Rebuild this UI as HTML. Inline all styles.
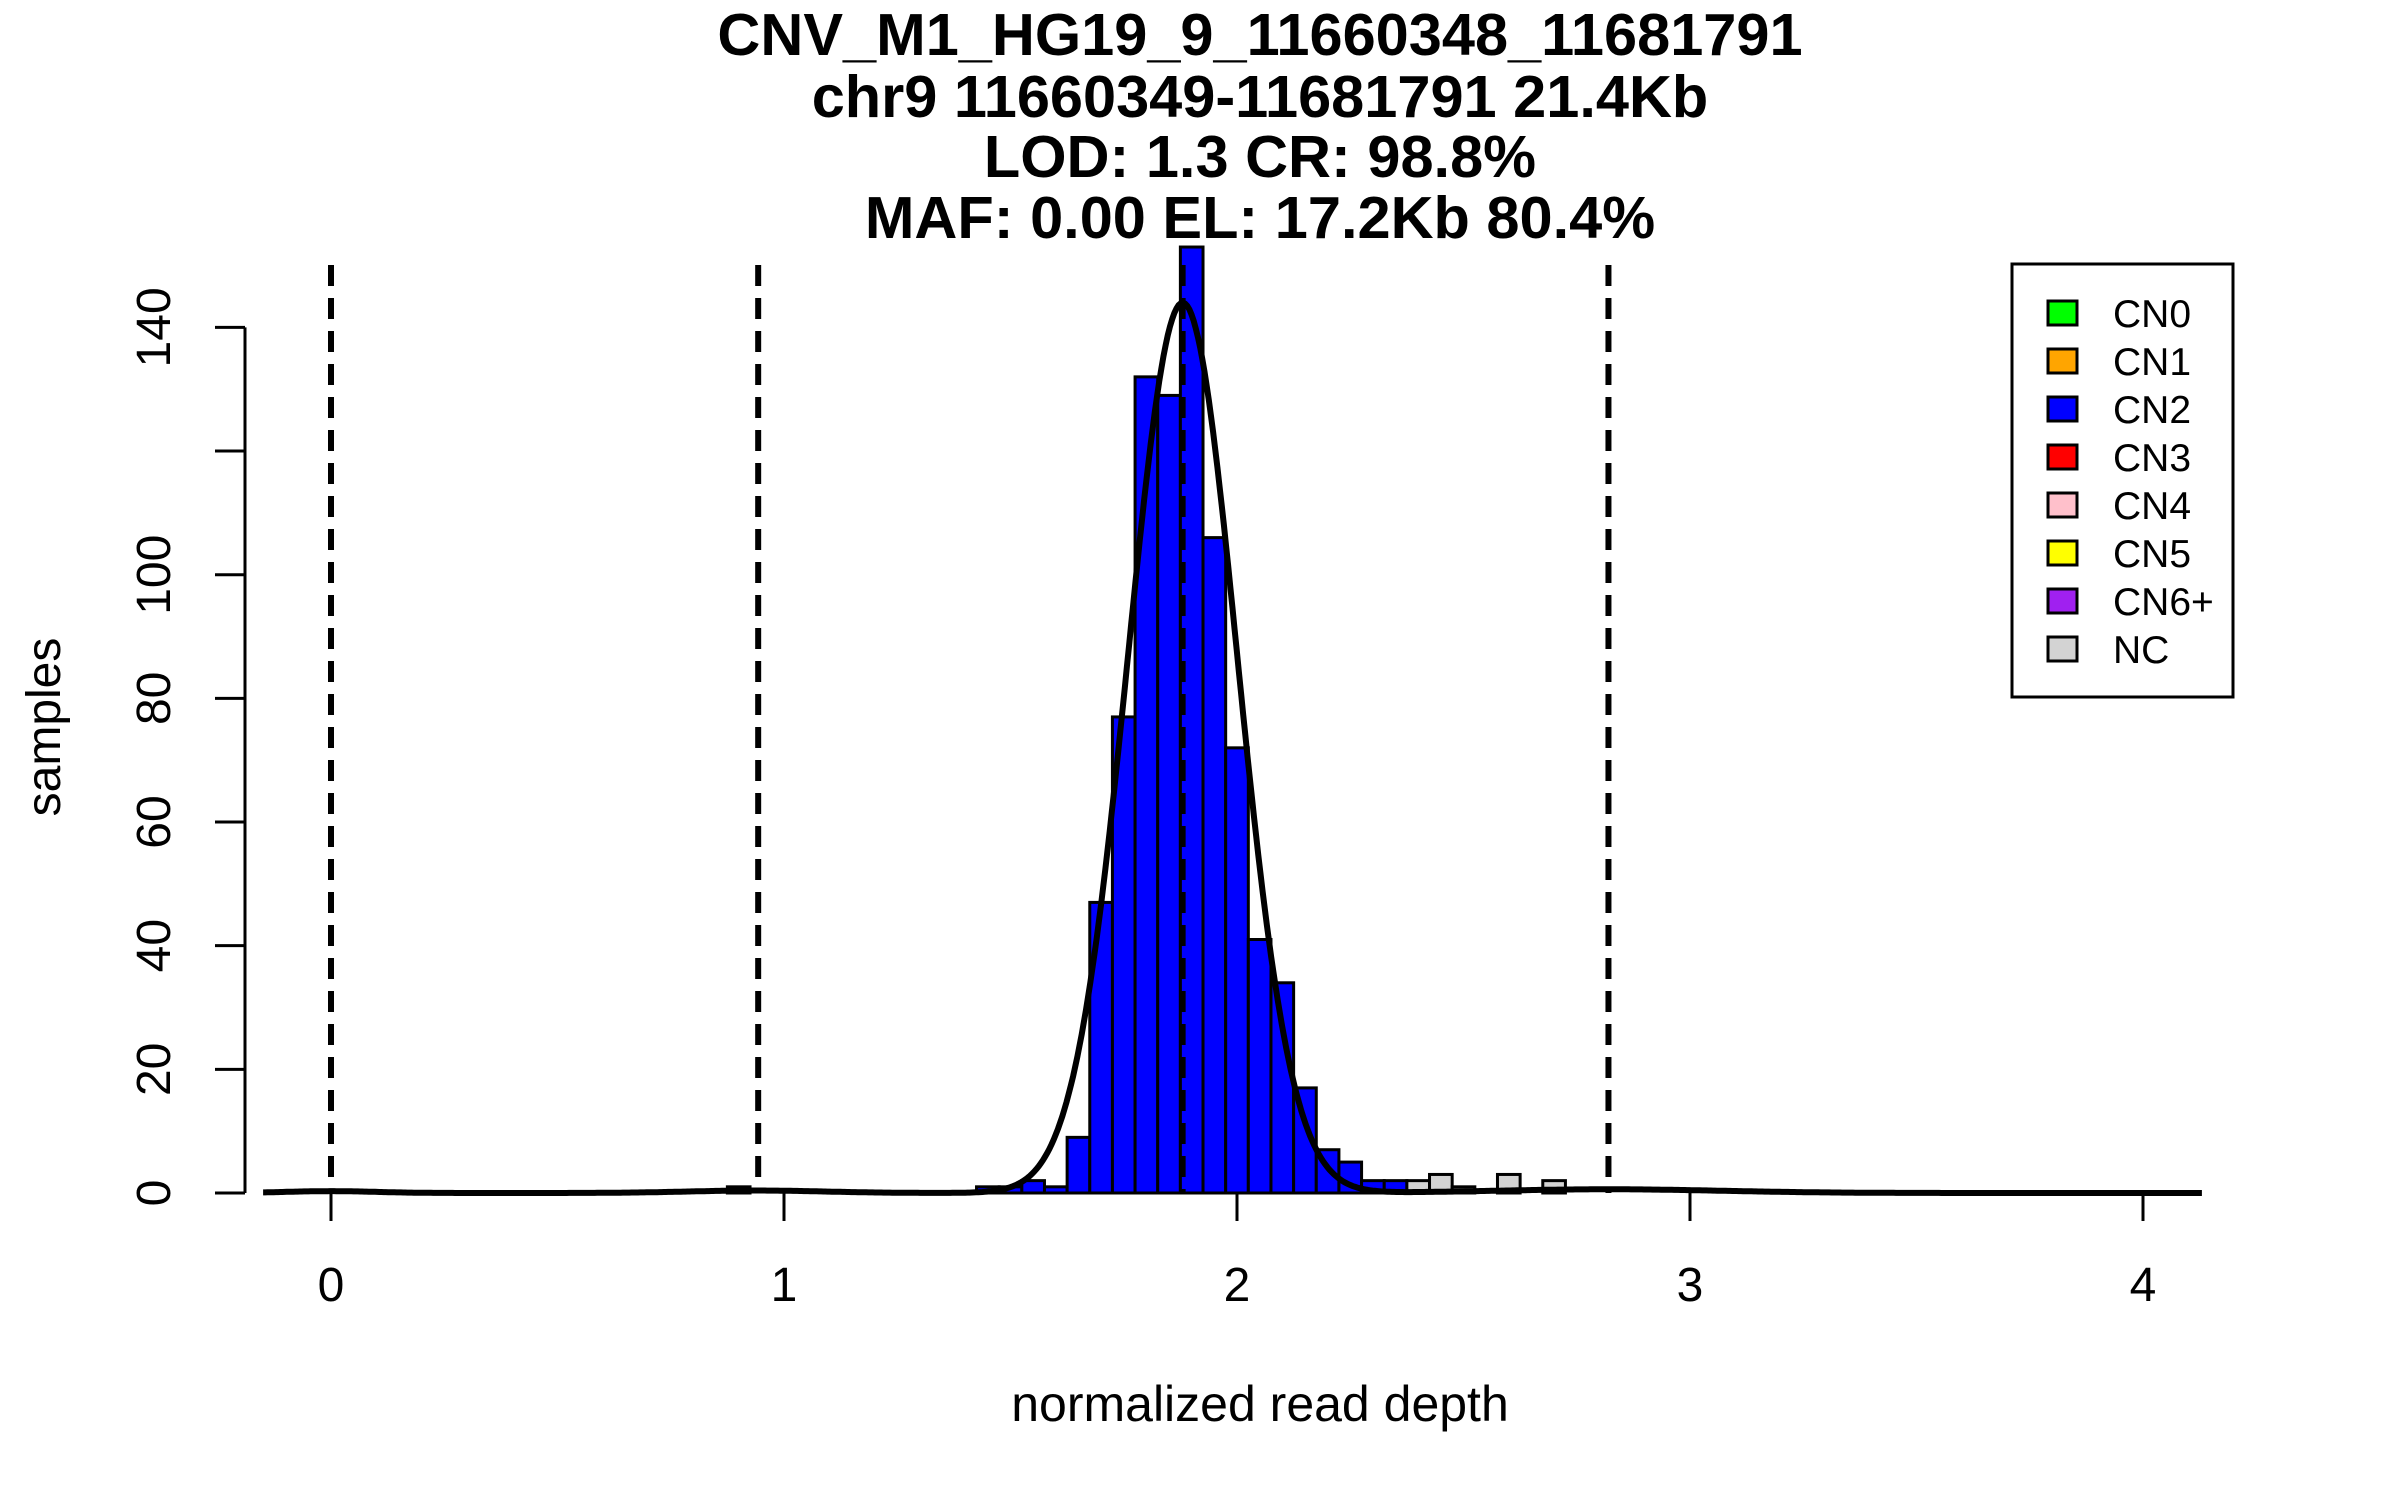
<!DOCTYPE html>
<html><head><meta charset="utf-8"><style>
html,body{margin:0;padding:0;background:#fff;}
svg{display:block;font-family:"Liberation Sans",Arial,sans-serif;}
</style></head><body>
<svg id="chart" width="2400" height="1500" viewBox="0 0 2400 1500" xmlns="http://www.w3.org/2000/svg">
<rect width="2400" height="1500" fill="#fff"/>
<g font-weight="bold" font-size="59.5" text-anchor="middle" fill="#000">
<text x="1260" y="55">CNV_M1_HG19_9_11660348_11681791</text>
<text x="1260" y="117">chr9 11660349-11681791 21.4Kb</text>
<text x="1260" y="177">LOD: 1.3 CR: 98.8%</text>
<text x="1260" y="238">MAF: 0.00 EL: 17.2Kb 80.4%</text>
</g>
<g id="bars"></g>
<g id="vlines"></g>
<path id="curve" fill="none" stroke="#000" stroke-width="6"/>
<g id="axes"></g>
<text x="1260" y="1421" font-size="50" text-anchor="middle">normalized read depth</text>
<text transform="translate(60,727) rotate(-90)" font-size="48" text-anchor="middle">samples</text>
<g>
<rect x="2012" y="264" width="221" height="433" fill="#fff" stroke="#000" stroke-width="3"/>
<g id="legend-items"></g>
</g>
</svg>
<script>
const binStarts = [0.875,1.425,1.475,1.525,1.575,1.625,1.675,1.725,1.775,1.825,1.875,1.925,1.975,2.025,2.075,2.125,2.175,2.225,2.275,2.325,2.375,2.425,2.475,2.575,2.675];
const binCounts = [1,1,1,2,1,9,47,77,132,129,153,106,72,41,34,17,7,5,2,2,2,3,1,3,2];
const binClass = ["CN2","CN2","CN2","CN2","CN2","CN2","CN2","CN2","CN2","CN2","CN2","CN2","CN2","CN2","CN2","CN2","CN2","CN2","CN2","CN2","NC","NC","NC","NC","NC"];
const binWidth = 0.05;
const thresholds = [0, 0.943, 1.88, 2.82];
const xTicks = [0,1,2,3,4];
const yTicks = [0,20,40,60,80,100,120,140];
const yTickLabels = ["0","20","40","60","80","100","","140"];
const compMeans = [0, 0.94, 1.88, 2.82];
const compSds = [0.1, 0.15, 0.12, 0.25];
const compPeaks = [0.3, 0.4, 144, 0.6];
const legendLabels = ["CN0","CN1","CN2","CN3","CN4","CN5","CN6+","NC"];
const legendColors = ["#00ff00","#ffa500","#0000ff","#ff0000","#ffc0cb","#ffff00","#a020f0","#d3d3d3"];
const classColor = {CN2:"#0000ff", NC:"#d3d3d3"};

const NS="http://www.w3.org/2000/svg";
const X = v => 331 + v*453;
const Y = v => 1193 - v*(865.6/140);
function mk(tag, attrs, parent){const e=document.createElementNS(NS,tag);for(const k in attrs)e.setAttribute(k,attrs[k]);parent.appendChild(e);return e;}

const bars=document.getElementById('bars');
binStarts.forEach((s,i)=>{
  const r=mk('rect',{x:X(s),y:Y(binCounts[i]),width:X(s+binWidth)-X(s),height:Y(0)-Y(binCounts[i]),fill:classColor[binClass[i]],stroke:'#000','stroke-width':3},bars);
  
  
});
const vl=document.getElementById('vlines');
thresholds.forEach(t=>{
  const l=mk('line',{x1:X(t),x2:X(t),y1:265,y2:Y(0),stroke:'#000','stroke-width':6,'stroke-dasharray':'21 12'},vl);
  
  
});
let d='';
for(let k=0;k<=900;k++){
  const x=-0.15+k*(4.28/900);
  let y=0;
  for(let j=0;j<compMeans.length;j++){const z=(x-compMeans[j])/compSds[j];y+=compPeaks[j]*Math.exp(-0.5*z*z);}
  d+=(k?'L':'M')+X(x).toFixed(1)+' '+Y(y).toFixed(1);
}
document.getElementById('curve').setAttribute('d',d);

const ax=document.getElementById('axes');
const yl=mk('line',{x1:245,x2:245,y1:Y(0),y2:Y(140),stroke:'#000','stroke-width':3},ax);


yTicks.forEach((v,i)=>{
  const t=mk('line',{x1:215,x2:245,y1:Y(v),y2:Y(v),stroke:'#000','stroke-width':3},ax);
  
  
  if(yTickLabels[i]){
    const tx=mk('text',{transform:`translate(170,${Y(v)}) rotate(-90)`,'font-size':48,'text-anchor':'middle'},ax);
    tx.textContent=yTickLabels[i];
    
    
  }
});
xTicks.forEach(v=>{
  const t=mk('line',{x1:X(v),x2:X(v),y1:Y(0),y2:Y(0)+28,stroke:'#000','stroke-width':3},ax);
  
  
  const tx=mk('text',{x:X(v),y:1301,'font-size':48,'text-anchor':'middle'},ax);
  tx.textContent=String(v);
  
  
});
const lg=document.getElementById('legend-items');
legendLabels.forEach((lab,i)=>{
  const cy=313+i*48;
  const r=mk('rect',{x:2048,y:cy-12,width:29,height:24,fill:legendColors[i],stroke:'#000','stroke-width':3},lg);
  
  
  const t=mk('text',{x:2113,y:cy+14,'font-size':39},lg);
  t.textContent=lab;
  
  
});
</script>
</body></html>
